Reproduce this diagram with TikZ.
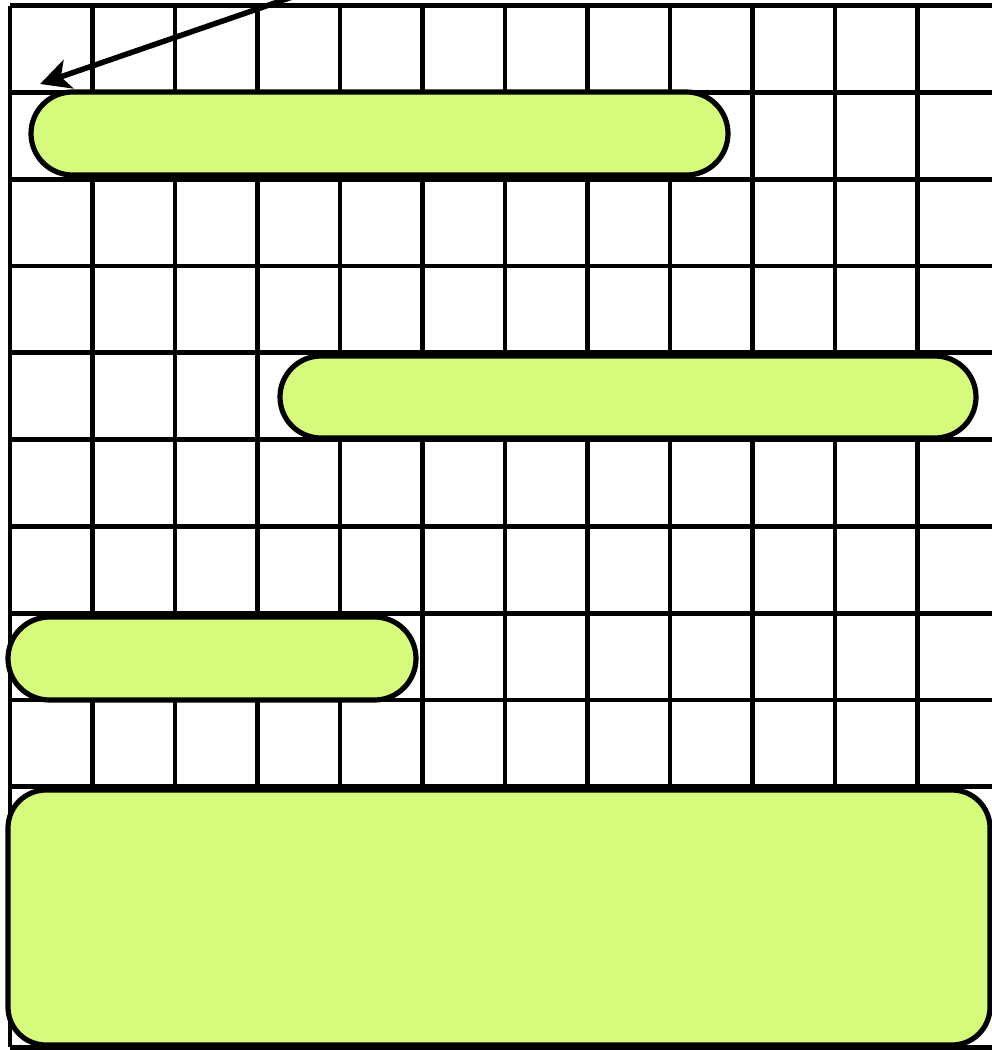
\documentclass[tikz,border=0pt]{standalone}
\usetikzlibrary{arrows.meta}
\definecolor{lime}{HTML}{D6FA7B}
\tikzset{
  gridline/.style={line width=4.8pt, black},
  bar/.style={draw=black, fill=lime, line width=5.2pt, inner sep=0pt, rectangle},
  pointer/.style={line width=5.5pt, -{Stealth[length=30pt,width=30pt,inset=8pt]}}
}
\begin{document}
\begin{tikzpicture}[x=1pt,y=-1pt]
\useasboundingbox (0,0) rectangle (992,1050);
\clip (0,0) rectangle (992,1050);
\fill[white] (0,0) rectangle (992,1050);
% grid
\foreach \i in {0,...,12} {
  \draw[gridline] ({10+82.5*\i},5.5) -- ({10+82.5*\i},1047);
}
\foreach \j in {0,...,12} {
  \draw[gridline] (10,{5.5+86.8*\j}) -- (1100,{5.5+86.8*\j});
}
% bars
\node[bar, rounded corners=41.5pt, minimum width=697pt, minimum height=83pt] (b1) at (379.5,133.5) {};
\node[bar, rounded corners=41pt, minimum width=696pt, minimum height=82pt] (b2) at (628,397) {};
\node[bar, rounded corners=41.5pt, minimum width=408pt, minimum height=83pt] (b3) at (212,658.5) {};
\node[bar, rounded corners=38pt, minimum width=982pt, minimum height=255pt] (b4) at (499,917.5) {};
% arrow
\coordinate (src) at (298,-5);
\coordinate (tip) at (40,84);
\draw[pointer] (src) -- (tip);
\end{tikzpicture}
\end{document}
